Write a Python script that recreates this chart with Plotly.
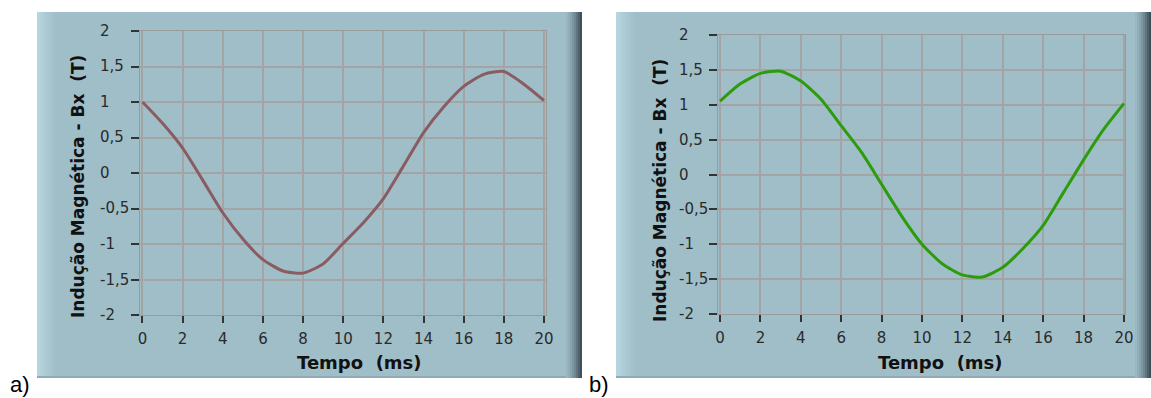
import plotly.graph_objects as go

W, H = 1151, 398

# ---- data ----
t_ms = [0, 1, 2, 3, 4, 5, 6, 7, 8, 9, 10, 11, 12, 13, 14, 15, 16, 17, 18, 19, 20]
bx_a = [1.00, 0.70, 0.35, -0.10, -0.56, -0.93, -1.22, -1.38, -1.41, -1.28, -0.99,
        -0.70, -0.36, 0.10, 0.57, 0.93, 1.22, 1.39, 1.43, 1.25, 1.02]
bx_b = [1.05, 1.30, 1.45, 1.48, 1.34, 1.08, 0.70, 0.32, -0.14, -0.60, -1.00,
        -1.28, -1.44, -1.47, -1.33, -1.06, -0.73, -0.26, 0.21, 0.65, 1.02]

x_tick_vals = [0, 2, 4, 6, 8, 10, 12, 14, 16, 18, 20]
x_tick_text = ["0", "2", "4", "6", "8", "10", "12", "14", "16", "18", "20"]
y_tick_vals = [2, 1.5, 1, 0.5, 0, -0.5, -1, -1.5, -2]
y_tick_text = ["2", "1,5", "1", "0,5", "0", "-0,5", "-1", "-1,5", "-2"]

y_title = "Indução Magnética - Bx\u00a0\u00a0(T)"
x_title = "Tempo\u00a0\u00a0(ms)"

FRAME = "#A0BEC8"
GRID = "#A4A4A4"
TXT = "#2a2a2a"
TICKFONT = dict(family="DejaVu Sans", size=15, color=TXT)
TITLEFONT = "DejaVu Sans"


def px(x):
    return x / W


def py(y):
    return 1 - y / H


fig = go.Figure()

panels = [
    dict(frame=(37, 12, 582, 378), box=(140, 31, 546, 315), xr=[-0.124, 20.1],
         y=bx_a, color="#8A5C62", xa="x", ya="y", ylab_x=100, ytitle_x=78,
         ytitle_y=187, xtitle_x=359, tag="a)", tag_x=8),
    dict(frame=(616, 12, 1151, 378), box=(718, 35, 1125, 314), xr=[-0.1, 20.05],
         y=bx_b, color="#2C9C0C", xa="x2", ya="y2", ylab_x=679, ytitle_x=660,
         ytitle_y=190, xtitle_x=940, tag="b)", tag_x=587),
]

shapes = []
annotations = []
layout_axes = {}

for i, p in enumerate(panels):
    fx0, fy0, fx1, fy1 = p["frame"]
    shapes.append(dict(type="rect", xref="paper", yref="paper", x0=px(fx0), x1=px(fx1),
                       y0=py(fy1), y1=py(fy0), fillcolor=FRAME, line_width=0, layer="below"))
    light = ["#B6D6DF", "#B2D1DA", "#AECCD6", "#AAC8D2", "#A7C5CF", "#A4C1CB"]
    for k, c in enumerate(light):
        shapes.append(dict(type="rect", xref="paper", yref="paper",
                           x0=px(fx0 + k * 3), x1=px(fx0 + k * 3 + 3),
                           y0=py(fy1), y1=py(fy0), fillcolor=c, line_width=0, layer="below"))
    dark = ["#9AB7C1", "#92AEB8", "#88A3AD", "#7C96A0", "#6F8791", "#5F7680", "#4E626B", "#3F5058"]
    for k, c in enumerate(dark):
        x0 = fx1 - (len(dark) - k) * 2
        shapes.append(dict(type="rect", xref="paper", yref="paper",
                           x0=px(x0), x1=px(x0 + 2),
                           y0=py(fy1), y1=py(fy0), fillcolor=c, line_width=0, layer="below"))
    shapes.append(dict(type="rect", xref="paper", yref="paper", x0=px(fx0), x1=px(fx1 - 16),
                       y0=py(fy1), y1=py(fy1 - 2), fillcolor="#8FAAB4", line_width=0, layer="below"))

    bx0, by0, bx1, by1 = p["box"]
    xname = "xaxis" if i == 0 else "xaxis2"
    yname = "yaxis" if i == 0 else "yaxis2"
    layout_axes[xname] = dict(
        domain=[px(bx0), px(bx1)], range=p["xr"], anchor=p["ya"], automargin=False,
        tickmode="array", tickvals=x_tick_vals, ticktext=x_tick_text,
        ticks="outside", ticklen=7, tickwidth=1.5, tickcolor="#333",
        tickfont=TICKFONT, ticklabelstandoff=3,
        showgrid=True, gridcolor=GRID, gridwidth=1.5,
        showline=True, linecolor="#9a9a9a", linewidth=1, mirror=True,
        zeroline=False, fixedrange=True,
    )
    layout_axes[yname] = dict(
        domain=[py(by1), py(by0)], range=[-2, 2], anchor=p["xa"], automargin=False,
        tickmode="array", tickvals=y_tick_vals, ticktext=y_tick_text,
        ticks="outside", ticklen=8, tickwidth=1.5, tickcolor="#333",
        showticklabels=False,
        showgrid=True, gridcolor=GRID, gridwidth=1.5,
        showline=True, linecolor="#9a9a9a", linewidth=1, mirror=True,
        zeroline=False, fixedrange=True,
    )

    fig.add_trace(go.Scatter(x=t_ms, y=p["y"], mode="lines", xaxis=p["xa"], yaxis=p["ya"],
                             line=dict(color=p["color"], width=3, shape="spline", smoothing=0.6),
                             showlegend=False, hoverinfo="skip"))

    for v, s in zip(y_tick_vals, y_tick_text):
        annotations.append(dict(xref="paper", yref=p["ya"], x=px(p["ylab_x"]), y=v,
                                text=s, showarrow=False, xanchor="left", yanchor="middle",
                                xshift=-2, font=TICKFONT))
    annotations.append(dict(xref="paper", yref="paper", x=px(p["ytitle_x"]), y=py(p["ytitle_y"]),
                            text=f"<b>{y_title}</b>", textangle=-90, showarrow=False,
                            xanchor="center", yanchor="middle",
                            font=dict(family=TITLEFONT, size=17, color="#111")))
    annotations.append(dict(xref="paper", yref="paper", x=px(p["xtitle_x"]), y=py(362),
                            text=f"<b>{x_title}</b>", showarrow=False,
                            xanchor="center", yanchor="middle",
                            font=dict(family=TITLEFONT, size=18, color="#111")))
    annotations.append(dict(xref="paper", yref="paper", x=px(p["tag_x"]), y=py(384),
                            text=p["tag"], showarrow=False, xanchor="left", yanchor="middle",
                            font=dict(family="Liberation Sans, Arial", size=22, color="#000")))

fig.update_layout(
    width=W, height=H, autosize=False,
    margin=dict(l=0, r=0, t=0, b=0, pad=0, autoexpand=False),
    paper_bgcolor="white", plot_bgcolor="#FAFAFA",
    shapes=shapes, annotations=annotations,
    **layout_axes,
)

fig.write_html(
    "out.html",
    config={"responsive": False, "displayModeBar": False},
    post_script="document.documentElement.style.overflow='hidden';"
                "document.body.style.margin='0';document.body.style.overflow='hidden';",
)
